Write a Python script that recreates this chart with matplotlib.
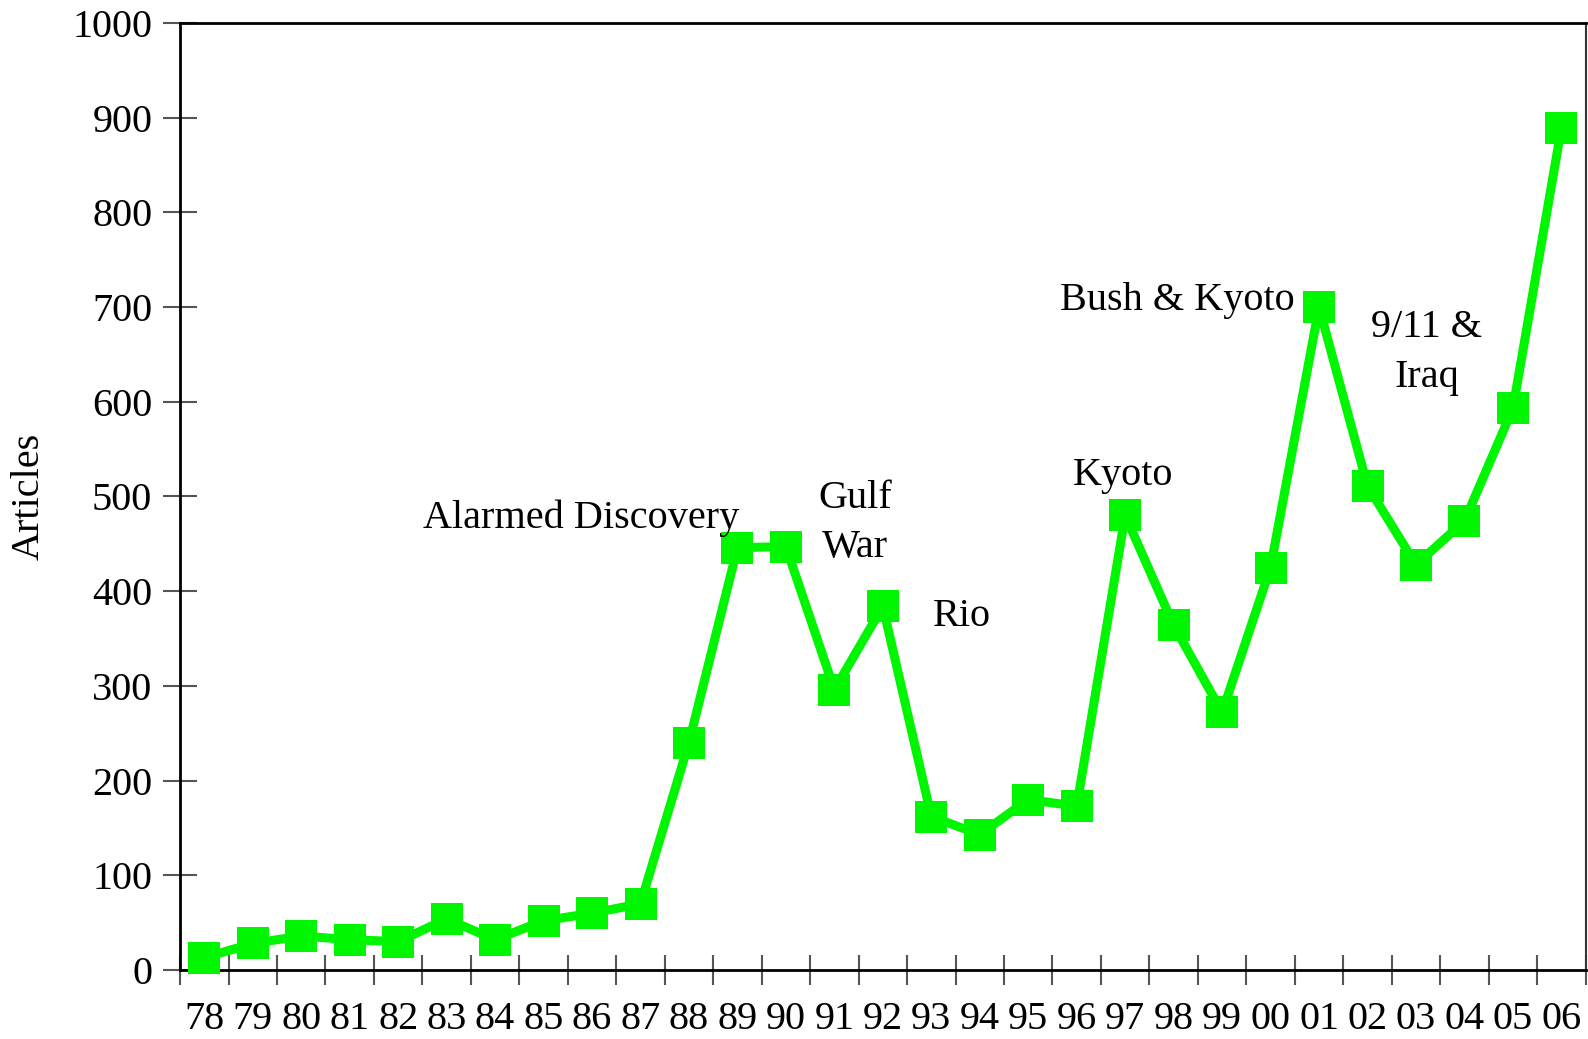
import matplotlib
matplotlib.use('Agg')
import numpy as np
import matplotlib.pyplot as plt

years = ['78', '79', '80', '81', '82', '83', '84', '85', '86', '87',
         '88', '89', '90', '91', '92', '93', '94', '95', '96', '97',
         '98', '99', '00', '01', '02', '03', '04', '05', '06']
articles = [13, 28, 36, 32, 30, 54, 32, 52, 60, 70,
            240, 446, 447, 296, 384, 162, 143, 180, 173, 480,
            364, 272, 425, 700, 511, 428, 474, 593, 889]
notes = ['Alarmed Discovery', 'Gulf\nWar', 'Rio', 'Kyoto',
         'Bush & Kyoto', '9/11 &\nIraq']
note_x = [7.78, 13.43, 15.64, 18.95, 20.07, 25.22]
note_y = [477, 472, 373, 522, 707, 652]

plt.rcParams['font.family'] = ['Liberation Serif', 'DejaVu Serif']
plt.rcParams['font.size'] = 29

fig = plt.figure(figsize=(15.88, 10.39), dpi=100)
ax = fig.add_axes([0.1134, 0.0664, 0.8851, 0.9115])

x = np.arange(len(years))
ax.plot(x, articles, color='#00F500', linewidth=6.5, marker='s',
        markersize=23, markeredgewidth=0, clip_on=False, zorder=3)

for txt, tx, ty in zip(notes, note_x, note_y):
    ax.text(tx, ty, txt, ha='center', va='center', fontsize=29,
            linespacing=1.45)

ax.set_xlim(-0.5, len(years) - 0.5)
ax.set_ylim(0, 1000)
ax.set_yticks(np.arange(0, 1001, 100))
ax.set_xticks(np.arange(len(years) + 1) - 0.5)
ax.set_xticklabels([])
ax.set_xticks(x, minor=True)
ax.set_xticklabels(years, minor=True)

ax.tick_params(axis='y', which='major', direction='inout', length=24,
               width=1.5, color='#555555', pad=8, labelsize=29)
ax.tick_params(axis='x', which='major', direction='inout', length=22,
               width=1.5, color='#555555')
ax.tick_params(axis='x', which='minor', length=0, pad=22, labelsize=29)

for side in ['left', 'bottom', 'top', 'right']:
    ax.spines[side].set_linewidth(2)
    ax.spines[side].set_color('black')
ax.spines['right'].set_color('#333333')
ax.spines['right'].set_linewidth(1.5)

ax.set_ylabel('Articles', fontsize=29, labelpad=18)

fig.savefig('out.png', dpi=100)
